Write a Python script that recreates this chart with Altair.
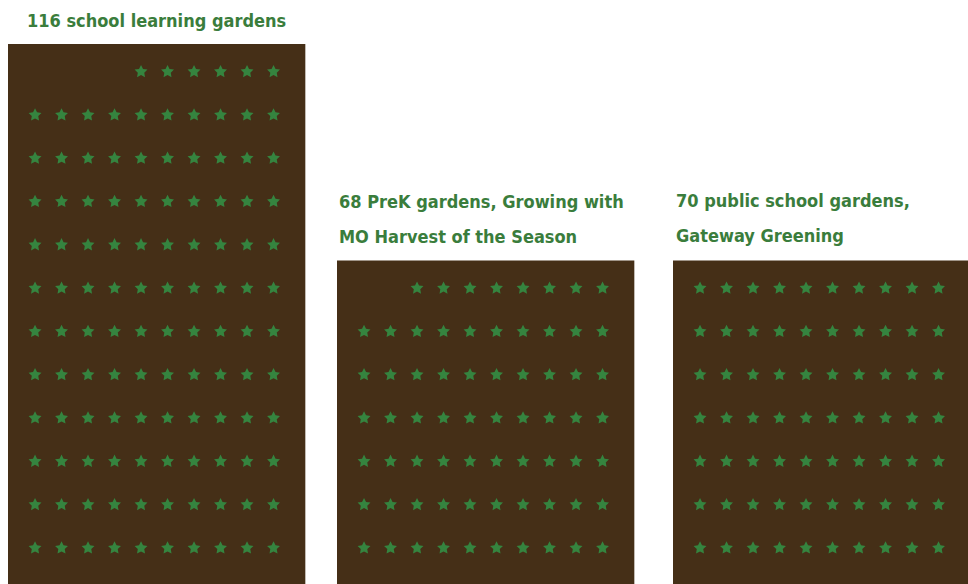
import math
import altair as alt
import pandas as pd

# data
titles = [
    ["116 school learning gardens"],
    ["68 PreK gardens, Growing with", "MO Harvest of the Season"],
    [" 70 public school gardens,", "Gateway Greening"],
]
counts = [116, 68, 70]
per_row = 10

BROWN = "#452f17"
STAR = "#35843f"
TEXT = "#3a7d3c"
FONT = "DejaVu Sans Condensed, Liberation Sans Narrow, Roboto Condensed, Roboto, sans-serif"

# five-pointed star symbol path (unit box)
_pts = []
for k in range(10):
    a = math.radians(-90 + 36 * k)
    rad = 1.0 if k % 2 == 0 else 0.5
    _pts.append(f"{rad * math.cos(a):.4f},{rad * math.sin(a):.4f}")
STAR_PATH = "M" + "L".join(_pts) + "Z"

PX = 26.5          # px per column unit
ROW_PX = 43.3      # px per row unit
BASE = 548         # pixel of bottom row
H = 584
widths = [298, 305, 295]
title_x = [19, 2, 3]
title_y = [[27], [208, 243], [207, 242]]

y_lo = -(H - BASE) / ROW_PX
y_hi = BASE / ROW_PX

panels = []
for i, n in enumerate(counts):
    nrows = -(-n // per_row)
    recs = []
    k = 0
    for r in range(nrows):
        for c in range(per_row):
            if k < n:
                recs.append({"c": per_row - 1 - c, "r": r})
                k += 1
    stars = pd.DataFrame(recs)
    x_min = -1.02
    x_max = x_min + widths[i] / PX
    bg_df = pd.DataFrame([{"a": x_min, "a2": min(10.2, x_max), "b": y_lo, "b2": nrows - 1 + 0.64}])
    xs = alt.Scale(domain=[x_min, x_max], nice=False, zero=False)
    ys = alt.Scale(domain=[y_lo, y_hi], nice=False, zero=False)

    bg = alt.Chart(bg_df).mark_rect(color=BROWN).encode(
        x=alt.X("a:Q", scale=xs, axis=None),
        x2="a2:Q",
        y=alt.Y("b:Q", scale=ys, axis=None),
        y2="b2:Q",
    )
    pts = alt.Chart(stars).mark_point(shape=STAR_PATH, filled=True, color=STAR, opacity=1, size=185).encode(
        x=alt.X("c:Q", scale=xs, axis=None),
        y=alt.Y("r:Q", scale=ys, axis=None),
    )
    lines = pd.DataFrame({"t": titles[i], "v": [(BASE - p) / ROW_PX for p in title_y[i]]})
    txt = alt.Chart(lines).mark_text(
        align="left", baseline="alphabetic", font=FONT,
        fontWeight="bold", fontSize=18, color=TEXT,
    ).encode(
        text="t:N",
        x=alt.value(title_x[i]),
        y=alt.Y("v:Q", scale=ys, axis=None),
    )
    panels.append(alt.layer(bg, pts, txt).properties(width=widths[i], height=H))

chart = alt.hconcat(*panels, spacing=31).properties(
    padding={"left": 8, "top": 0, "right": 0, "bottom": 0},
    background="white",
).configure_view(stroke=None)

chart.save("out.html", embed_options={"renderer": "svg", "actions": False})
